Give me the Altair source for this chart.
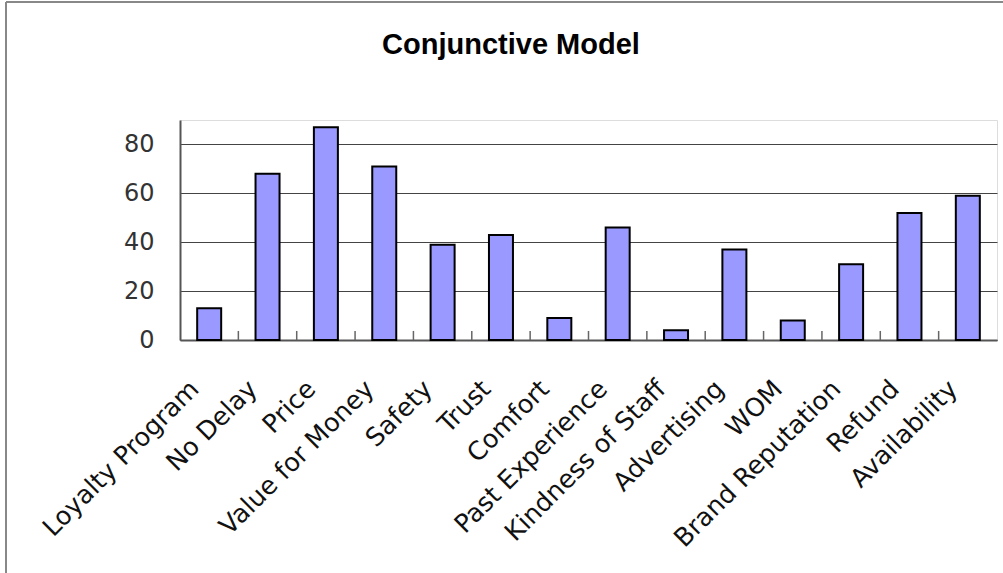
import altair as alt
import pandas as pd

categories = ["Loyalty Program", "No Delay", "Price", "Value for Money", "Safety", "Trust",
              "Comfort", "Past Experience", "Kindness of Staff", "Advertising", "WOM",
              "Brand Reputation", "Refund", "Availability"]
values = [13, 68, 87, 71, 39, 43, 9, 46, 4, 37, 8, 31, 52, 59]
y_ticks = [0, 20, 40, 60, 80]
title_text = "Conjunctive Model"

W, H = 817, 220
step = W / len(categories)

df = pd.DataFrame({"cat": categories, "val": values})
ticks_df = pd.DataFrame({"cat": categories[1:], "lo": [0] * (len(categories) - 1),
                         "hi": [3.7] * (len(categories) - 1)})

xscale = alt.Scale(domain=categories)
yscale = alt.Scale(domain=[0, 90], nice=False)

bars = alt.Chart(df).mark_bar(size=24, fill="#9999FF", stroke="#000000", strokeWidth=2).encode(
    x=alt.X("cat:N", scale=xscale, sort=categories, title=None,
            axis=alt.Axis(labelAngle=-45, labelAlign="right", labelBaseline="top",
                          labelFontSize=25.5, labelFont="DejaVu Sans", labelColor="#111111",
                          labelPadding=36, labelOffset=-23, ticks=False, tickSize=0,
                          domainColor="#555555", domainWidth=2, labelOverlap=False,
                          labelLimit=400)),
    y=alt.Y("val:Q", scale=yscale, title=None,
            axis=alt.Axis(values=y_ticks, labelFontSize=24, labelFont="DejaVu Sans",
                          labelColor="#333333", ticks=False, tickSize=0, labelPadding=26,
                          domainColor="#555555", domainWidth=2, gridColor="#444444",
                          gridWidth=1, grid=True)),
)

inner_ticks = alt.Chart(ticks_df).mark_rule(color="#666666", strokeWidth=1.5, xOffset=-step / 2).encode(
    x=alt.X("cat:N", scale=xscale, sort=categories),
    y=alt.Y("lo:Q", scale=yscale),
    y2="hi:Q",
)

frame_df = pd.DataFrame({"t": [title_text]})
left_border = alt.Chart(frame_df).mark_rule(color="#888888", strokeWidth=2).encode(
    x=alt.value(-174), y=alt.value(-118), y2=alt.value(H + 233))
top_border = alt.Chart(frame_df).mark_rule(color="#888888", strokeWidth=2).encode(
    x=alt.value(-174), x2=alt.value(W + 10), y=alt.value(-118))
title = alt.Chart(frame_df).mark_text(fontSize=29, font="Liberation Sans", fontWeight="bold",
                                      color="#000000", align="center", baseline="alphabetic").encode(
    text="t:N", x=alt.value(331), y=alt.value(-66))

chart = alt.layer(bars, inner_ticks, left_border, top_border, title).properties(
    width=W, height=H,
    autosize=alt.AutoSizeParams(type="none"),
    padding={"left": 180, "top": 120, "right": 6, "bottom": 233},
).configure_view(
    fill="#C0C0C0", stroke="#888888", strokeWidth=2
).configure(background="#FFFFFF")

chart.save("out.html", embed_options={"renderer": "svg", "actions": False})
